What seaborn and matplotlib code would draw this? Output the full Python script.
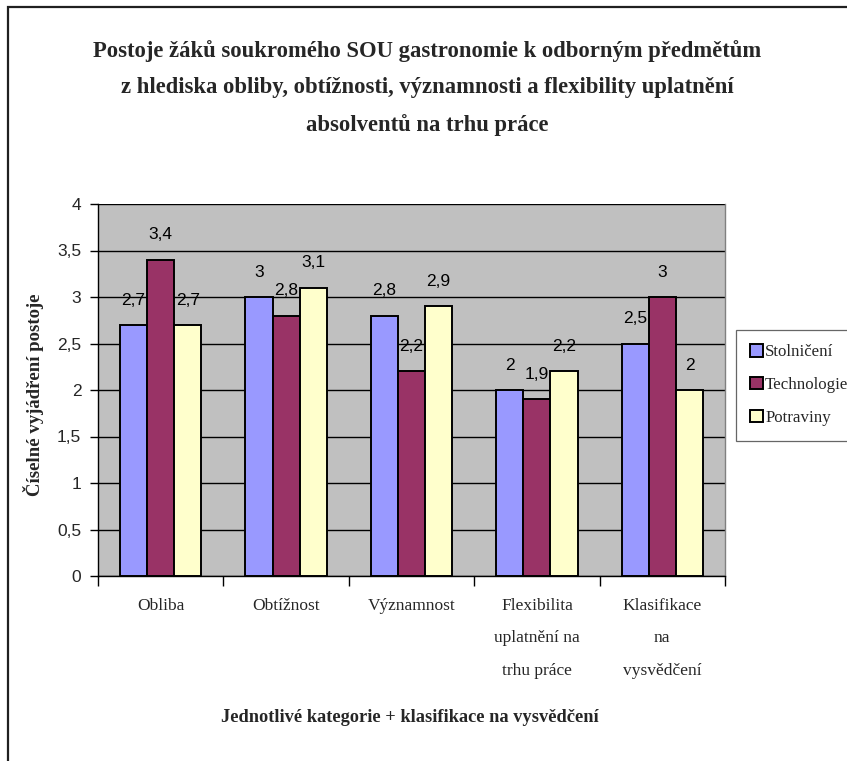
import matplotlib
matplotlib.use("Agg")
import matplotlib.pyplot as plt
import seaborn as sns
import pandas as pd
from matplotlib.ticker import FuncFormatter, MultipleLocator, FixedLocator
from matplotlib.patches import Rectangle

# Data
categories = ["Obliba", "Obtížnost", "Významnost",
              "Flexibilita\nuplatnění na\ntrhu práce",
              "Klasifikace\nna\nvysvědčení"]
series = ["Stolničení", "Technologie", "Potraviny"]
stolniceni = [2.7, 3.0, 2.8, 2.0, 2.5]
technologie = [3.4, 2.8, 2.2, 1.9, 3.0]
potraviny = [2.7, 3.1, 2.9, 2.2, 2.0]
colors = ["#9999FF", "#993366", "#FFFFCC"]

values = [stolniceni, technologie, potraviny]
rows = []
for name, vals in zip(series, values):
    for cat, v in zip(categories, vals):
        rows.append({"kategorie": cat, "predmet": name, "hodnota": v})
df = pd.DataFrame(rows)

sns.set_theme(style="white")
plt.rcParams["font.family"] = ["Liberation Serif", "DejaVu Serif"]

SANS = ["Liberation Sans", "DejaVu Sans"]

fig = plt.figure(figsize=(8.47, 7.61), dpi=100)
fig.patch.set_facecolor("white")
ax = fig.add_axes([98 / 847, 1 - 576 / 761, (725 - 98) / 847, (576 - 204) / 761])
ax.set_facecolor("#C0C0C0")

sns.barplot(data=df, x="kategorie", y="hodnota", hue="predmet",
            order=categories, hue_order=series, palette=colors,
            width=0.65, edgecolor="black", linewidth=1.4,
            errorbar=None, saturation=1, ax=ax, zorder=3)

def comma(v):
    return f"{v:g}".replace(".", ",")

for cont, vals in zip(ax.containers, values):
    ax.bar_label(cont, labels=[comma(v) for v in vals], padding=12.5,
                 fontsize=12.5, family=SANS, color="black")

# Axes and grid
ax.set_xlim(-0.5, 4.5)
ax.set_ylim(0, 4)
ax.yaxis.set_major_locator(MultipleLocator(0.5))
ax.yaxis.set_major_formatter(FuncFormatter(lambda v, p: comma(round(v, 2))))
ax.yaxis.grid(True, color="black", linewidth=1.0)
ax.set_axisbelow(True)
for lbl in ax.get_yticklabels():
    lbl.set_fontfamily(SANS)
ax.tick_params(axis="y", which="major", length=6, width=1, color="black",
               labelsize=12.5, pad=6, left=True, direction="out")

ax.set_xticks(range(len(categories)))
ax.set_xticklabels(categories, fontsize=12.5, linespacing=2.35)
ax.xaxis.set_minor_locator(FixedLocator([i - 0.5 for i in range(len(categories) + 1)]))
ax.tick_params(axis="x", which="major", length=0, pad=16)
ax.tick_params(axis="x", which="minor", length=7, width=1, color="black",
               bottom=True, direction="out")

ax.set_xlabel("")
ax.set_ylabel("")
for side in ["left", "bottom"]:
    ax.spines[side].set_color("black")
    ax.spines[side].set_linewidth(1.0)
ax.spines["right"].set_color("#808080")
ax.spines["right"].set_linewidth(1.0)
ax.spines["top"].set_visible(False)

# Legend
handles = [c.patches[0] for c in ax.containers]
if ax.get_legend() is not None:
    ax.get_legend().remove()
leg = fig.legend(handles, series, loc="upper left",
                 bbox_to_anchor=(736 / 847, 1 - 330 / 761),
                 frameon=True, fancybox=False, shadow=False,
                 fontsize=12.2, handlelength=0.72, handleheight=0.72,
                 handletextpad=0.15, labelspacing=1.0, borderpad=0.85,
                 borderaxespad=0)
leg.get_frame().set_edgecolor("#404040")
leg.get_frame().set_linewidth(0.9)

# Texts
fig.text(427 / 847, 1 - 88 / 761,
         "Postoje žáků soukromého SOU gastronomie k odborným předmětům\n"
         "z hlediska obliby, obtížnosti, významnosti a flexibility uplatnění\n"
         "absolventů na trhu práce",
         ha="center", va="center", fontsize=16.3, fontweight="bold",
         linespacing=1.95)
fig.text(33 / 847, 1 - 395 / 761, "Číselné vyjádření postoje",
         rotation=90, ha="center", va="center", fontsize=13.5,
         fontweight="bold")
fig.text(410 / 847, 1 - 717 / 761,
         "Jednotlivé kategorie + klasifikace na vysvědčení",
         ha="center", va="center", fontsize=13.2, fontweight="bold")

# Chart frame
fig.add_artist(Rectangle((7.5 / 847, -0.05), 1.2, 1 - 7.5 / 761 + 0.05,
                         transform=fig.transFigure, fill=False,
                         edgecolor="#202020", linewidth=1.6))

fig.savefig("out.png", dpi=100)
